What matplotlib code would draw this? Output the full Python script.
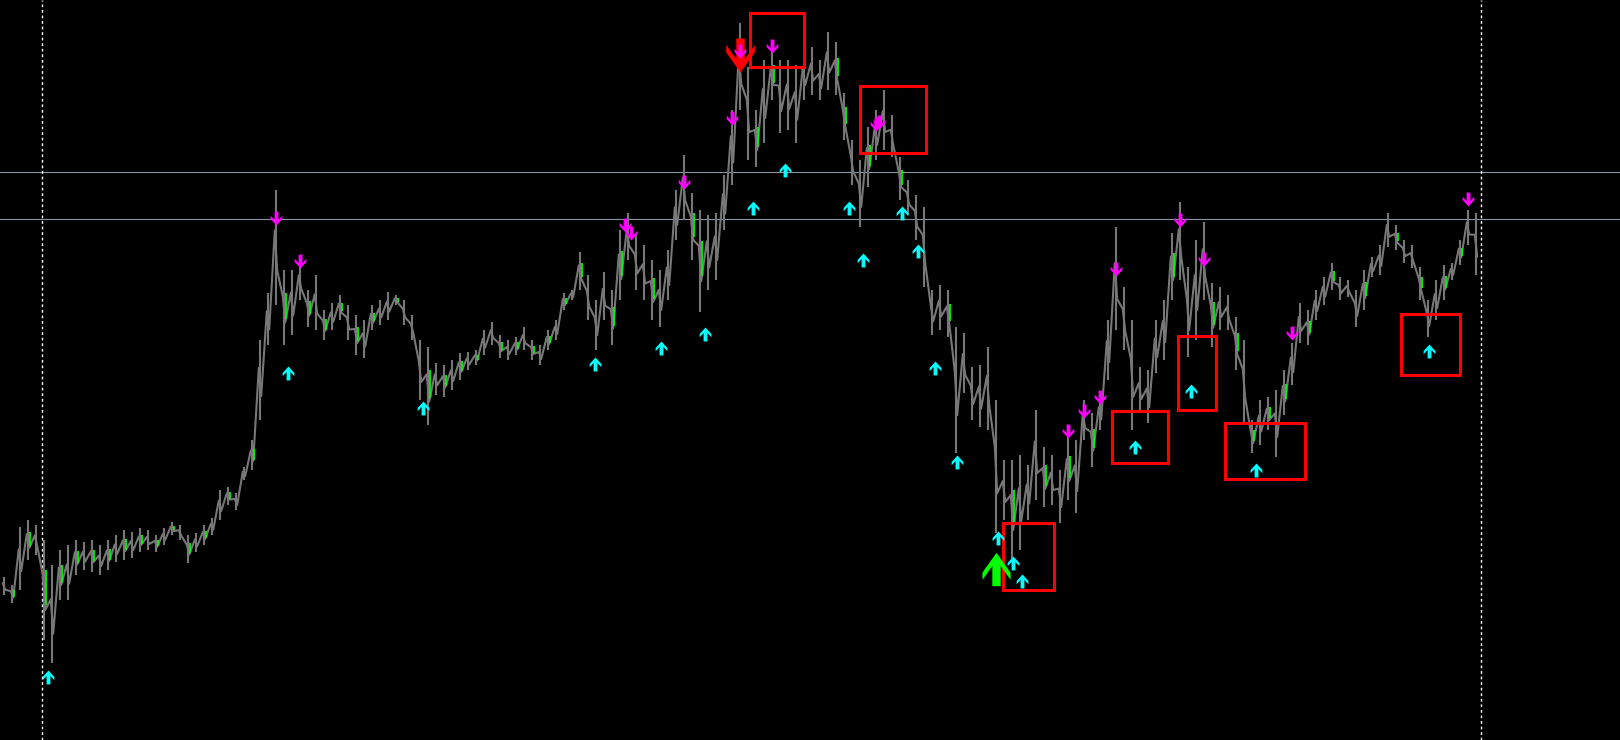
import numpy as np
import matplotlib
matplotlib.use('Agg')
import matplotlib.pyplot as plt
from matplotlib.path import Path
from matplotlib.patches import Rectangle

# 가격 데이터 (bar high / low, price points)
highs = [163, 155, 213, 220, 215, 200, 175, 190, 195, 200,
         198, 200, 195, 200, 205, 210, 208, 212, 210, 205,
         212, 218, 215, 205, 207, 215, 222, 250, 253, 247,
         273, 300, 400, 447, 550, 470, 470, 478, 450, 465,
         430, 437, 445, 435, 425, 420, 435, 440, 448, 445,
         440, 425, 400, 393, 377, 375, 380, 387, 388, 390,
         410, 418, 405, 400, 403, 413, 400, 395, 410, 420,
         447, 450, 488, 465, 440, 468, 450, 510, 527, 505,
         495, 480, 470, 490, 550, 585, 547, 530, 525, 527,
         565, 630, 717, 673, 630, 680, 690, 680, 680, 675,
         690, 693, 680, 708, 698, 647, 600, 580, 613, 630,
         650, 625, 583, 560, 545, 533, 450, 455, 450, 413,
         407, 373, 375, 393, 340, 280, 280, 285, 275, 330,
         293, 285, 270, 303, 300, 340, 327, 345, 420, 513,
         453, 420, 373, 370, 420, 440, 507, 538, 473, 500,
         518, 457, 453, 445, 423, 400, 320, 340, 343, 350,
         370, 397, 437, 430, 450, 463, 477, 463, 460, 450,
         470, 483, 495, 527, 515, 500, 495, 473, 440, 460,
         475, 477, 500, 530, 527]
lows = [145, 137, 150, 180, 185, 100, 77, 140, 140, 165,
        170, 168, 165, 170, 178, 180, 182, 188, 190, 188,
        195, 205, 200, 177, 188, 195, 205, 220, 235, 230,
        260, 270, 320, 395, 435, 395, 405, 440, 413, 410,
        400, 410, 420, 400, 385, 382, 410, 415, 420, 435,
        415, 400, 340, 315, 345, 343, 350, 360, 370, 375,
        385, 395, 382, 380, 385, 390, 380, 375, 390, 400,
        430, 440, 450, 420, 390, 420, 395, 440, 480, 450,
        440, 420, 413, 440, 500, 520, 480, 428, 450, 460,
        510, 555, 630, 580, 573, 597, 640, 607, 610, 597,
        640, 645, 640, 650, 645, 600, 555, 513, 553, 580,
        590, 583, 540, 525, 500, 453, 405, 410, 403, 287,
        347, 320, 313, 310, 207, 220, 180, 190, 220, 240,
        233, 235, 217, 240, 227, 300, 273, 310, 360, 410,
        390, 310, 327, 317, 367, 380, 440, 460, 383, 400,
        440, 393, 410, 410, 370, 317, 287, 295, 310, 283,
        325, 355, 397, 395, 420, 435, 450, 440, 443, 413,
        430, 463, 465, 493, 490, 477, 472, 440, 403, 420,
        440, 460, 475, 495, 465]
green_bars = [1, 3, 5, 7, 9, 11, 13, 15, 17, 19, 21, 23, 25, 28,
              31, 35, 38, 40, 42, 44, 46, 49, 53, 55, 57,
              59, 62, 64, 66, 68, 70, 72, 76, 77, 81,
              86, 87, 94, 96, 104, 105, 108, 112, 118, 126, 130, 133, 136,
              146, 151, 154, 156, 158, 160, 163, 166, 170, 174, 177,
              180, 182]

# 신호 화살표 (bar index, price)
sell_x = [34, 37, 77.6, 78.4, 85, 91, 92, 96, 109, 109.4,
          133, 135, 137, 139, 147, 150, 161, 183]
sell_y = [522, 479, 515, 507, 558, 622, 689, 694, 616, 618,
          309, 329, 343, 471, 520, 481, 407, 541]
buy_x = [5.5, 35.5, 52.4, 73.9, 82.1, 87.6, 93.6, 97.6, 105.6, 107.4, 112.25,
         114.25, 116.4, 119.1, 124.25, 126.1, 127.25, 141.4, 148.4, 156.5, 178.1]
buy_y = [63, 367, 332, 376, 392, 406, 532, 570, 532, 480, 527,
         489, 372, 278, 202, 177, 159, 293, 349, 270, 389]
big_sell_x = [92]
big_sell_y = [685]
big_buy_x = [124]
big_buy_y = [171]

# 박스 (left bar, right bar, bottom price, top price)
boxes = [(93.25, 100.0, 673, 727),
         (107.0, 115.25, 587, 654),
         (124.9, 131.25, 150, 217),
         (138.5, 145.5, 277, 329),
         (146.75, 151.5, 330, 404),
         (152.6, 162.6, 261, 317),
         (174.6, 182.0, 365, 426)]
levels = [568, 521]
separators = [4.75, 184.6]


# 화살표 모양 (위쪽 기준, down=True 이면 뒤집기)
def arrow_path(w, half, corner, wing, shaft, down=False):
    slope = (half - corner) / w
    notch = wing + (w - shaft) * slope
    v = [(0, half), (w, corner), (w, wing), (shaft, notch), (shaft, -half),
         (-shaft, -half), (-shaft, notch), (-w, wing), (-w, corner), (0, half)]
    if down:
        v = [(x, -y) for x, y in v]
    return Path(v, closed=True)


small_up = arrow_path(5.5, 6.5, 0.5, -2.6, 1.8)
small_down = arrow_path(5.5, 6.5, 0.5, -2.6, 1.8, down=True)
big_up = arrow_path(13.5, 16, -3, -10, 4.0)
big_down = arrow_path(13.5, 16, -3, -10, 4.0, down=True)

fig = plt.figure(figsize=(16.2, 7.4), dpi=100, facecolor='black')
ax = fig.add_axes([0, 0, 1, 1])
ax.set_facecolor('black')
ax.set_xlim(-0.5, 202.0)
ax.set_ylim(0, 740)
ax.axis('off')

idx = np.arange(len(highs))
hi = np.array(highs)
lo = np.array(lows)

# 가격: 바(고가-저가) + 지그재그
ax.vlines(idx, lo, hi, color='#777777', lw=1.5, zorder=2)
xs = np.column_stack([idx - 0.15, idx + 0.15]).ravel()
ys = np.column_stack([lo + 0.65 * (hi - lo), lo + 0.3 * (hi - lo)]).ravel()
ax.plot(xs, ys, color='#777777', lw=1.5, zorder=2)

g = np.array(green_bars)
gl = lo[g] + 0.35 * (hi[g] - lo[g])
gh = lo[g] + 0.7 * (hi[g] - lo[g])
ax.vlines(g + 0.3, gl, gh, color='#00ff00', lw=1.3, zorder=3)

for lv in levels:
    ax.axhline(lv, color='#8a93a3', lw=0.8, zorder=1)
for sx in separators:
    ax.axvline(sx, color='white', lw=1.0, ls=(0, (2, 2)), zorder=1)

for x0, x1, b, t in boxes:
    ax.add_patch(Rectangle((x0, b), x1 - x0, t - b, fill=False,
                           edgecolor='#ff0000', lw=2.2, zorder=4))

ax.scatter(big_sell_x, big_sell_y, marker=big_down, s=24.5 ** 2,
           color='#ff0000', linewidths=0, zorder=5)
ax.scatter(big_buy_x, big_buy_y, marker=big_up, s=24 ** 2,
           color='#00ff00', linewidths=0, zorder=5)
ax.scatter(sell_x, sell_y, marker=small_down, s=10 ** 2,
           color='#ff00ff', linewidths=0, zorder=6)
ax.scatter(buy_x, buy_y, marker=small_up, s=10 ** 2,
           color='#00ffff', linewidths=0, zorder=6)

plt.savefig('out.png', dpi=100, facecolor='black')
